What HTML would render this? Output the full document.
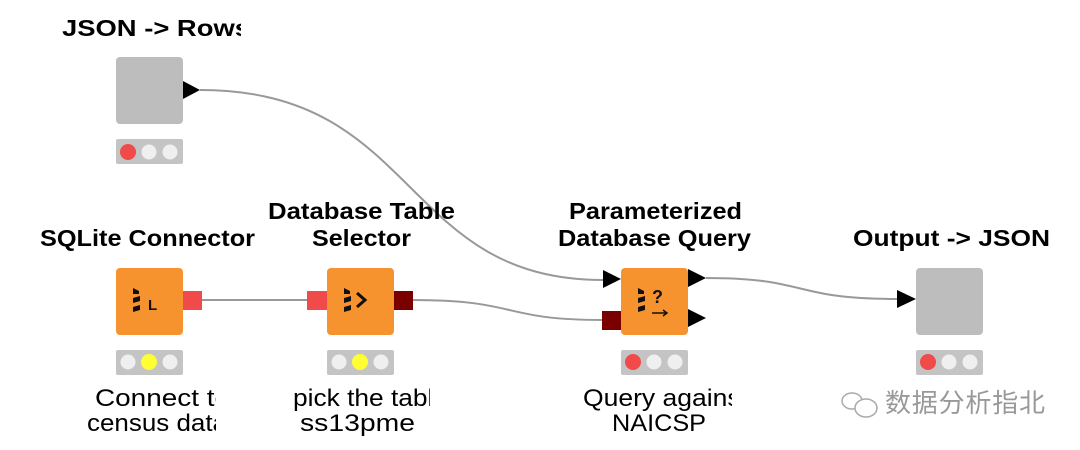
<!DOCTYPE html>
<html><head><meta charset="utf-8"><style>
html,body{margin:0;padding:0;background:#fff;}
svg{display:block;}
.t{font-family:"Liberation Sans",sans-serif;font-weight:bold;font-size:23px;fill:#000;}
.l{font-family:"Liberation Sans",sans-serif;font-size:24px;fill:#000;}
</style></head><body>
<svg width="1080" height="450" viewBox="0 0 1080 450" xmlns="http://www.w3.org/2000/svg">
<defs>
<clipPath id="c1"><rect x="0" y="0" width="241" height="60"/></clipPath>
<clipPath id="c2"><rect x="0" y="370" width="216" height="80"/></clipPath>
<clipPath id="c3"><rect x="250" y="370" width="180" height="80"/></clipPath>
<clipPath id="c4"><rect x="560" y="370" width="172" height="80"/></clipPath>
<g id="db">
<path d="M0,0 L6,3 L6,6 L0,6 Z" fill="#111"/>
<path d="M0,10 L7,8 L7,13 L0,15 Z" fill="#111"/>
<path d="M0,19 L7,17 L7,22 L0,24 Z" fill="#111"/>
</g>
</defs>
<g fill="none" stroke="#999" stroke-width="2">
<path d="M200,90 C420,90 400,280 603,280"/>
<path d="M202,300 L307,300"/>
<path d="M412,300 C520,300 500,320 603,320"/>
<path d="M706,278 C810,278 790,299 897,299"/>
</g>
<text class="t" x="62" y="36" clip-path="url(#c1)" textLength="188" lengthAdjust="spacingAndGlyphs">JSON -&gt; Rows</text>
<text class="t" x="40" y="246" textLength="215" lengthAdjust="spacingAndGlyphs">SQLite Connector</text>
<text class="t" x="268" y="219" textLength="187" lengthAdjust="spacingAndGlyphs">Database Table</text>
<text class="t" x="312" y="246" textLength="99" lengthAdjust="spacingAndGlyphs">Selector</text>
<text class="t" x="569" y="219" textLength="173" lengthAdjust="spacingAndGlyphs">Parameterized</text>
<text class="t" x="558" y="246" textLength="193" lengthAdjust="spacingAndGlyphs">Database Query</text>
<text class="t" x="853" y="246" textLength="197" lengthAdjust="spacingAndGlyphs">Output -&gt; JSON</text>
<rect x="116" y="57" width="67" height="67" rx="4" fill="#bdbdbd"/>
<polygon points="183,81 200,90 183,99" fill="#000"/>
<rect x="116" y="268" width="67" height="67" rx="4" fill="#f7932f"/>
<rect x="183" y="291" width="19" height="19" fill="#f04a4a"/>
<use href="#db" x="133" y="288"/>
<text x="148" y="310" font-family="Liberation Sans" font-weight="bold" font-size="15" fill="#111">L</text>
<rect x="327" y="268" width="67" height="67" rx="4" fill="#f7932f"/>
<rect x="307" y="291" width="20" height="19" fill="#f04a4a"/>
<rect x="394" y="291" width="19" height="19" fill="#7a0000"/>
<use href="#db" x="344" y="288"/>
<path d="M357,293 L365,300 L357,307" fill="none" stroke="#111" stroke-width="3"/>
<rect x="621" y="268" width="67" height="67" rx="4" fill="#f7932f"/>
<polygon points="603,270 621,279 603,288" fill="#000"/>
<rect x="602" y="311" width="19" height="19" fill="#7a0000"/>
<polygon points="688,269 706,278 688,287" fill="#000"/>
<polygon points="688,309 706,318 688,327" fill="#000"/>
<use href="#db" x="638" y="288"/>
<text x="652" y="303" font-family="Liberation Sans" font-weight="bold" font-size="18" fill="#111">?</text>
<path d="M652,313 L667,313 M663,310 L667,313 L663,316" fill="none" stroke="#111" stroke-width="1.5"/>
<rect x="916" y="268" width="67" height="67" rx="4" fill="#bdbdbd"/>
<polygon points="897,290 916,299 897,308" fill="#000"/>
<g>
<rect x="116" y="139" width="67" height="25" rx="2" fill="#c4c4c4"/>
<circle cx="128" cy="152" r="8" fill="#f04a4a"/><circle cx="149" cy="152" r="7.5" fill="#efefef"/><circle cx="170" cy="152" r="7.5" fill="#efefef"/>
<rect x="116" y="350" width="67" height="25" rx="2" fill="#c4c4c4"/>
<circle cx="128" cy="362" r="7.5" fill="#efefef"/><circle cx="149" cy="362" r="8" fill="#ffff33"/><circle cx="170" cy="362" r="7.5" fill="#efefef"/>
<rect x="327" y="350" width="67" height="25" rx="2" fill="#c4c4c4"/>
<circle cx="339" cy="362" r="7.5" fill="#efefef"/><circle cx="360" cy="362" r="8" fill="#ffff33"/><circle cx="381" cy="362" r="7.5" fill="#efefef"/>
<rect x="621" y="350" width="67" height="25" rx="2" fill="#c4c4c4"/>
<circle cx="633" cy="362" r="8" fill="#f04a4a"/><circle cx="654" cy="362" r="7.5" fill="#efefef"/><circle cx="675" cy="362" r="7.5" fill="#efefef"/>
<rect x="916" y="350" width="67" height="25" rx="2" fill="#c4c4c4"/>
<circle cx="928" cy="362" r="8" fill="#f04a4a"/><circle cx="949" cy="362" r="7.5" fill="#efefef"/><circle cx="970" cy="362" r="7.5" fill="#efefef"/>
</g>
<g clip-path="url(#c2)">
<text class="l" x="95" y="406" textLength="135" lengthAdjust="spacingAndGlyphs">Connect to</text>
<text class="l" x="87" y="431" textLength="140" lengthAdjust="spacingAndGlyphs">census data</text>
</g>
<g clip-path="url(#c3)">
<text class="l" x="293" y="406" textLength="155" lengthAdjust="spacingAndGlyphs">pick the table</text>
<text class="l" x="300" y="431" textLength="115" lengthAdjust="spacingAndGlyphs">ss13pme</text>
</g>
<g clip-path="url(#c4)">
<text class="l" x="583" y="406" textLength="165" lengthAdjust="spacingAndGlyphs">Query against</text>
<text class="l" x="612" y="431" textLength="94" lengthAdjust="spacingAndGlyphs">NAICSP</text>
</g>
<g fill="none" stroke="#aaa" stroke-width="1.5">
<ellipse cx="852" cy="401" rx="10" ry="8"/>
<ellipse cx="866" cy="408" rx="11" ry="9" fill="#fff"/>
</g>
<text x="885" y="412" font-family="'Noto Sans CJK SC',sans-serif" font-size="26" fill="#999" textLength="160">数据分析指北</text>
</svg>
</body></html>
